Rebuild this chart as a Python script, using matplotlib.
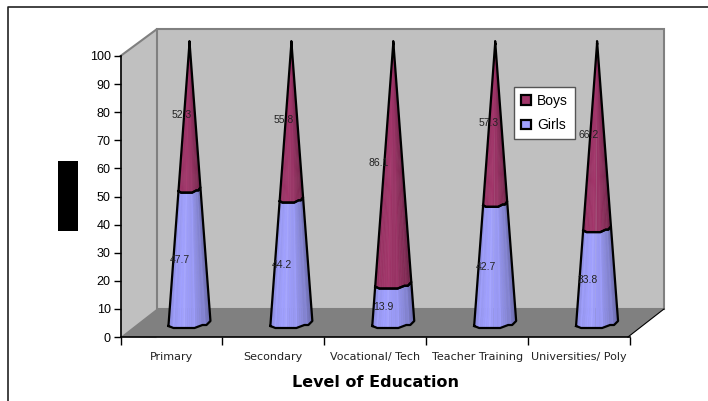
import numpy as np
import matplotlib
matplotlib.use('Agg')
import matplotlib.pyplot as plt
from matplotlib.colors import to_rgb
from matplotlib.lines import Line2D
from matplotlib.patches import Patch, Rectangle

categories = ['Primary', 'Secondary', 'Vocational/ Tech', 'Teacher Training', 'Universities/ Poly']
girls = [47.7, 44.2, 13.9, 42.7, 33.8]
boys = [52.3, 55.8, 86.1, 57.3, 66.2]
y_ticks = list(range(0, 101, 10))

W, H = 708, 401
LEFT, RIGHT, BOTTOM, TOP = 120.5, 630, 337, 56
PX_X = 5 / (RIGHT - LEFT)
PX_Y = 100 / (BOTTOM - TOP)

plt.rcParams['font.family'] = ['Liberation Sans', 'DejaVu Sans']
fig = plt.figure(figsize=(W / 100, H / 100), dpi=100, facecolor='white')
ax = fig.add_axes([LEFT / W, 1 - BOTTOM / H, (RIGHT - LEFT) / W, (BOTTOM - TOP) / H])
ax.set_xlim(0, 5)
ax.set_ylim(0, 100)
ax.patch.set_visible(False)
for side in ['top', 'right']:
    ax.spines[side].set_visible(False)
for side in ['left', 'bottom']:
    ax.spines[side].set_linewidth(1.2)
    ax.spines[side].set_zorder(6)

# 3d box
dx = 36 * PX_X
dy = 28 * PX_Y
GREY = '#C0C0C0'
EDGE = '#808080'
ax.fill([0, dx, dx, 0], [0, -0.4, 100 + dy - 0.5, 100], facecolor=GREY, edgecolor='none', clip_on=False, zorder=1)
ax.fill([dx, 5 + dx - 0.02, 5 + dx - 0.02, dx], [dy, dy, 100 + dy - 0.5, 100 + dy - 0.5], facecolor=GREY,
        edgecolor=EDGE, linewidth=1.5, clip_on=False, zorder=1)
ax.plot([0, dx], [100, 100 + dy - 0.5], color=EDGE, lw=1.5, clip_on=False, zorder=1)
ax.fill([0, dx, 5 + dx - 0.02, 4.98], [0, dy, dy, 0], facecolor=EDGE, edgecolor='none', clip_on=False, zorder=2)
ax.plot([4.98, 5 + dx - 0.02], [0, dy], color='black', lw=0.8, clip_on=False, zorder=3)

# cones are faceted, profile of the front edge read from the base
prof_u = np.array([-1, -0.76, 0.24, 0.62, 0.81, 1])
prof_dy = np.array([3, 5, 5, 2, 2, -2])
strip_u = np.linspace(-1, 1, 21)
shade_u = [-1, -0.45, 0.1, 0.55, 1]
shade_v = [0.88, 1.0, 0.96, 0.86, 0.68]
R = 21 * PX_X
LIFT = 14 * PX_Y


def edge(cx, v, u):
    r = 1 - v / 100
    x = cx + u * R * r
    y = v + LIFT - np.interp(u, prof_u, prof_dy) * PX_Y * (0.45 + 0.55 * r)
    return x, y


def segment(cx, v0, v1, color):
    rgb = np.array(to_rgb(color))
    for i in range(len(strip_u) - 1):
        u0, u1 = strip_u[i], strip_u[i + 1]
        s = np.interp((u0 + u1) / 2, shade_u, shade_v)
        if i % 5 == 2:
            s = s + 0.05
        c = np.clip(rgb * s, 0, 1)
        x0, y0 = edge(cx, v0, u0)
        x1, y1 = edge(cx, v0, u1)
        x2, y2 = edge(cx, v1, u1)
        x3, y3 = edge(cx, v1, u0)
        ax.fill([x0, x1, x2, x3], [y0, y1, y2, y3], facecolor=c, edgecolor=c, linewidth=0.4,
                clip_on=False, zorder=4)
    out = [edge(cx, v0, u) for u in prof_u] + [edge(cx, v1, u) for u in prof_u[::-1]]
    xs, ys = zip(*out)
    ax.plot(list(xs) + [xs[0]], list(ys) + [ys[0]], color='black', lw=1.6, solid_joinstyle='round',
            clip_on=False, zorder=5)


GIRLS_COLOR = '#A0A0FF'
BOYS_COLOR = '#A03569'
label_shift = [-8, -7.5, -15, -6.5, -8]
for i in range(len(categories)):
    cx = i + 0.5 + 18 * PX_X
    g = girls[i]
    b = boys[i]
    segment(cx, g, g + b, BOYS_COLOR)
    segment(cx, 0, g, GIRLS_COLOR)
    ax.annotate(str(b), (cx, g + b / 2 + LIFT), xytext=(label_shift[i] * 0.72, 0), textcoords='offset points',
                ha='center', va='center', fontsize=7.5, color='#222222', zorder=7, annotation_clip=False)
    ax.annotate(str(g), (cx, g / 2 + LIFT), xytext=(-9.5 * 0.72, -4 * 0.72), textcoords='offset points',
                ha='center', va='center', fontsize=7.5, color='#222222', zorder=7, annotation_clip=False)

ax.set_yticks(y_ticks)
ax.set_xticks(range(6))
ax.set_xticklabels([])
ax.set_xticks(np.arange(5) + 0.5, categories, minor=True, family='DejaVu Sans', fontsize=8)
ax.tick_params(axis='y', length=5, width=1, labelsize=9, pad=2)
ax.tick_params(axis='x', which='major', length=6, width=1)
ax.tick_params(axis='x', which='minor', length=0, pad=11, colors='#222222')
ax.set_xlabel('Level of Education', family='DejaVu Sans', fontweight='bold', fontsize=11.5, labelpad=9.5)

handles = [Patch(facecolor=BOYS_COLOR, edgecolor='black', linewidth=1.6, label='Boys'),
           Patch(facecolor=GIRLS_COLOR, edgecolor='black', linewidth=1.6, label='Girls')]
leg = ax.legend(handles=handles, loc='upper left', bbox_to_anchor=(514 / W, 1 - 87 / H),
                bbox_transform=fig.transFigure, fontsize=10, frameon=True, fancybox=False, framealpha=1,
                edgecolor='#555555', handlelength=0.7, handleheight=0.7, handletextpad=0.45,
                labelspacing=0.75, borderpad=0.5, borderaxespad=0)
leg.set_zorder(8)

# outer frame, and the black block left of the axis
fig.add_artist(Line2D([7.5 / W, 7.5 / W, 1], [0, 1 - 6.5 / H, 1 - 6.5 / H], color='#222222', lw=1.2))
fig.add_artist(Rectangle((58 / W, 1 - 231 / H), 20 / W, 70 / H, facecolor='black', edgecolor='none'))

fig.savefig('out.png', dpi=100)
